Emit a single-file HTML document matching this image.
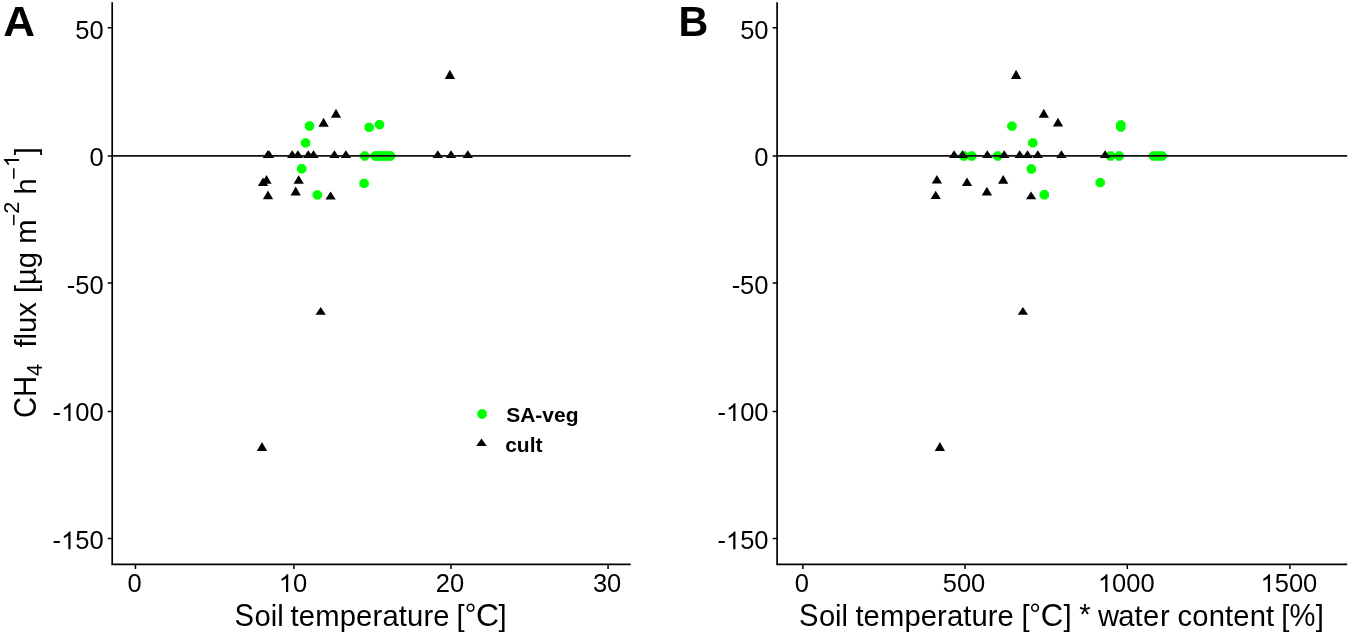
<!DOCTYPE html>
<html><head><meta charset="utf-8"><title>CH4 flux vs soil temperature</title><style>
html,body{margin:0;padding:0;background:#fff;overflow:hidden}
svg{display:block;will-change:transform}
text{font-family:"Liberation Sans",sans-serif;fill:#000}
.tk{font-size:25.5px}
.ti{font-size:29.2px}
.tag{font-size:43px;font-weight:bold}
.lg{font-size:21px;font-weight:bold}
</style></head><body>
<svg width="1350" height="635" viewBox="0 0 1350 635">
<rect width="1350" height="635" fill="#fff"/>
<g fill="#00ff00"><polygon points="314.20,127.95 311.45,130.70 307.55,130.70 304.80,127.95 304.80,124.05 307.55,121.30 311.45,121.30 314.20,124.05"/><polygon points="310.30,144.85 307.55,147.60 303.65,147.60 300.90,144.85 300.90,140.95 303.65,138.20 307.55,138.20 310.30,140.95"/><polygon points="373.90,129.35 371.15,132.10 367.25,132.10 364.50,129.35 364.50,125.45 367.25,122.70 371.15,122.70 373.90,125.45"/><polygon points="384.20,126.55 381.45,129.30 377.55,129.30 374.80,126.55 374.80,122.65 377.55,119.90 381.45,119.90 384.20,122.65"/><polygon points="306.40,170.75 303.65,173.50 299.75,173.50 297.00,170.75 297.00,166.85 299.75,164.10 303.65,164.10 306.40,166.85"/><polygon points="368.80,185.35 366.05,188.10 362.15,188.10 359.40,185.35 359.40,181.45 362.15,178.70 366.05,178.70 368.80,181.45"/><polygon points="322.00,196.85 319.25,199.60 315.35,199.60 312.60,196.85 312.60,192.95 315.35,190.20 319.25,190.20 322.00,192.95"/><polygon points="369.50,157.95 366.75,160.70 362.85,160.70 360.10,157.95 360.10,154.05 362.85,151.30 366.75,151.30 369.50,154.05"/><polygon points="380.00,157.95 377.25,160.70 373.35,160.70 370.60,157.95 370.60,154.05 373.35,151.30 377.25,151.30 380.00,154.05"/><polygon points="382.50,157.95 379.75,160.70 375.85,160.70 373.10,157.95 373.10,154.05 375.85,151.30 379.75,151.30 382.50,154.05"/><polygon points="385.00,157.95 382.25,160.70 378.35,160.70 375.60,157.95 375.60,154.05 378.35,151.30 382.25,151.30 385.00,154.05"/><polygon points="387.50,157.95 384.75,160.70 380.85,160.70 378.10,157.95 378.10,154.05 380.85,151.30 384.75,151.30 387.50,154.05"/><polygon points="390.00,157.95 387.25,160.70 383.35,160.70 380.60,157.95 380.60,154.05 383.35,151.30 387.25,151.30 390.00,154.05"/><polygon points="392.50,157.95 389.75,160.70 385.85,160.70 383.10,157.95 383.10,154.05 385.85,151.30 389.75,151.30 392.50,154.05"/><polygon points="395.00,157.95 392.25,160.70 388.35,160.70 385.60,157.95 385.60,154.05 388.35,151.30 392.25,151.30 395.00,154.05"/></g>
<g fill="#000"><polygon points="444.75,78.90 455.05,78.90 449.90,69.80"/><polygon points="330.85,117.70 341.15,117.70 336.00,108.70"/><polygon points="318.45,126.80 328.75,126.80 323.60,117.70"/><polygon points="261.35,183.80 271.65,183.80 266.50,175.10"/><polygon points="257.85,186.10 268.15,186.10 263.00,177.60"/><polygon points="293.55,183.80 303.85,183.80 298.70,175.20"/><polygon points="262.85,199.30 273.15,199.30 268.00,190.60"/><polygon points="290.55,195.60 300.85,195.60 295.70,186.50"/><polygon points="325.45,199.60 335.75,199.60 330.60,191.50"/><polygon points="315.55,314.80 325.85,314.80 320.70,307.10"/><polygon points="256.85,450.90 267.15,450.90 262.00,441.90"/><polygon points="262.65,157.90 272.95,157.90 267.80,150.20"/><polygon points="263.85,157.90 274.15,157.90 269.00,150.20"/><polygon points="287.05,157.90 297.35,157.90 292.20,150.20"/><polygon points="292.75,157.90 303.05,157.90 297.90,150.20"/><polygon points="303.15,157.90 313.45,157.90 308.30,150.20"/><polygon points="308.35,157.90 318.65,157.90 313.50,150.20"/><polygon points="329.25,157.90 339.55,157.90 334.40,150.20"/><polygon points="340.75,157.90 351.05,157.90 345.90,150.20"/><polygon points="432.65,157.90 442.95,157.90 437.80,150.20"/><polygon points="445.85,157.90 456.15,157.90 451.00,150.20"/><polygon points="462.65,157.90 472.95,157.90 467.80,150.20"/></g>
<g fill="#00ff00"><polygon points="1016.60,128.05 1013.85,130.80 1009.95,130.80 1007.20,128.05 1007.20,124.15 1009.95,121.40 1013.85,121.40 1016.60,124.15"/><polygon points="1037.50,144.85 1034.75,147.60 1030.85,147.60 1028.10,144.85 1028.10,140.95 1030.85,138.20 1034.75,138.20 1037.50,140.95"/><polygon points="1125.50,126.95 1122.75,129.70 1118.85,129.70 1116.10,126.95 1116.10,123.05 1118.85,120.30 1122.75,120.30 1125.50,123.05"/><polygon points="1125.50,128.95 1122.75,131.70 1118.85,131.70 1116.10,128.95 1116.10,125.05 1118.85,122.30 1122.75,122.30 1125.50,125.05"/><polygon points="1036.00,170.95 1033.25,173.70 1029.35,173.70 1026.60,170.95 1026.60,167.05 1029.35,164.30 1033.25,164.30 1036.00,167.05"/><polygon points="1104.90,184.55 1102.15,187.30 1098.25,187.30 1095.50,184.55 1095.50,180.65 1098.25,177.90 1102.15,177.90 1104.90,180.65"/><polygon points="1049.00,196.65 1046.25,199.40 1042.35,199.40 1039.60,196.65 1039.60,192.75 1042.35,190.00 1046.25,190.00 1049.00,192.75"/><polygon points="968.50,157.95 965.75,160.70 961.85,160.70 959.10,157.95 959.10,154.05 961.85,151.30 965.75,151.30 968.50,154.05"/><polygon points="976.40,157.95 973.65,160.70 969.75,160.70 967.00,157.95 967.00,154.05 969.75,151.30 973.65,151.30 976.40,154.05"/><polygon points="1002.40,157.95 999.65,160.70 995.75,160.70 993.00,157.95 993.00,154.05 995.75,151.30 999.65,151.30 1002.40,154.05"/><polygon points="1115.30,157.95 1112.55,160.70 1108.65,160.70 1105.90,157.95 1105.90,154.05 1108.65,151.30 1112.55,151.30 1115.30,154.05"/><polygon points="1123.90,157.95 1121.15,160.70 1117.25,160.70 1114.50,157.95 1114.50,154.05 1117.25,151.30 1121.15,151.30 1123.90,154.05"/><polygon points="1158.30,157.95 1155.55,160.70 1151.65,160.70 1148.90,157.95 1148.90,154.05 1151.65,151.30 1155.55,151.30 1158.30,154.05"/><polygon points="1162.50,157.95 1159.75,160.70 1155.85,160.70 1153.10,157.95 1153.10,154.05 1155.85,151.30 1159.75,151.30 1162.50,154.05"/><polygon points="1166.80,157.95 1164.05,160.70 1160.15,160.70 1157.40,157.95 1157.40,154.05 1160.15,151.30 1164.05,151.30 1166.80,154.05"/></g>
<g fill="#000"><polygon points="1010.95,78.90 1021.25,78.90 1016.10,69.80"/><polygon points="1038.65,117.70 1048.95,117.70 1043.80,108.70"/><polygon points="1052.85,126.60 1063.15,126.60 1058.00,117.70"/><polygon points="931.75,183.40 942.05,183.40 936.90,174.90"/><polygon points="961.85,186.10 972.15,186.10 967.00,177.50"/><polygon points="998.05,183.70 1008.35,183.70 1003.20,175.10"/><polygon points="930.55,199.10 940.85,199.10 935.70,190.80"/><polygon points="981.75,195.50 992.05,195.50 986.90,186.70"/><polygon points="1025.95,199.30 1036.25,199.30 1031.10,191.60"/><polygon points="1017.75,314.80 1028.05,314.80 1022.90,307.10"/><polygon points="934.75,450.90 945.05,450.90 939.90,441.90"/><polygon points="948.95,157.90 959.25,157.90 954.10,150.20"/><polygon points="957.45,157.90 967.75,157.90 962.60,150.20"/><polygon points="982.15,157.90 992.45,157.90 987.30,150.20"/><polygon points="999.05,157.90 1009.35,157.90 1004.20,150.20"/><polygon points="1014.55,157.90 1024.85,157.90 1019.70,150.20"/><polygon points="1022.35,157.90 1032.65,157.90 1027.50,150.20"/><polygon points="1032.65,157.90 1042.95,157.90 1037.80,150.20"/><polygon points="1056.25,157.90 1066.55,157.90 1061.40,150.20"/><polygon points="1099.95,157.90 1110.25,157.90 1105.10,150.20"/></g>
<path d="M112.20 2.3 V564.40 H630.70" fill="none" stroke="#000" stroke-width="1.7"/>
<path d="M107.70 27.70 H112.20M107.70 155.90 H112.20M107.70 283.10 H112.20M107.70 411.50 H112.20M107.70 538.50 H112.20M135.47 564.40 V568.90M293.90 564.40 V568.90M450.97 564.40 V568.90M608.07 564.40 V568.90" fill="none" stroke="#000" stroke-width="1.5"/>
<path d="M112.20 155.9 H630.70" stroke="#111" stroke-width="1.8"/>
<g class="tkg">
<text x="75.24" y="38.60" class="tk">50</text>
<text x="89.42" y="165.60" class="tk">0</text>
<text x="66.74" y="293.90" class="tk">-50</text>
<text x="52.56" y="421.00" class="tk">- 00</text><path d="M763 0L583 0L583 1147Q518 1085 412.5 1023Q307 961 223 930L223 1104Q374 1175 487 1276Q600 1377 647 1472L763 1472Z" transform="translate(61.05,421.00) scale(0.01245,-0.01209)"/>
<text x="52.56" y="549.30" class="tk">- 50</text><path d="M763 0L583 0L583 1147Q518 1085 412.5 1023Q307 961 223 930L223 1104Q374 1175 487 1276Q600 1377 647 1472L763 1472Z" transform="translate(61.05,549.30) scale(0.01245,-0.01209)"/>
<text x="127.38" y="592.00" class="tk">0</text>
<text x="278.72" y="592.00" class="tk"> 0</text><path d="M763 0L583 0L583 1147Q518 1085 412.5 1023Q307 961 223 930L223 1104Q374 1175 487 1276Q600 1377 647 1472L763 1472Z" transform="translate(278.72,592.00) scale(0.01245,-0.01209)"/>
<text x="435.79" y="592.00" class="tk">20</text>
<text x="592.89" y="592.00" class="tk">30</text>
</g>
<path d="M777.10 2.3 V564.40 H1347.20" fill="none" stroke="#000" stroke-width="1.7"/>
<path d="M772.60 27.70 H777.10M772.60 155.90 H777.10M772.60 283.10 H777.10M772.60 411.50 H777.10M772.60 538.50 H777.10M802.90 564.40 V568.90M965.00 564.40 V568.90M1127.30 564.40 V568.90M1289.90 564.40 V568.90" fill="none" stroke="#000" stroke-width="1.5"/>
<path d="M777.10 155.9 H1347.20" stroke="#111" stroke-width="1.8"/>
<g class="tkg">
<text x="740.14" y="38.60" class="tk">50</text>
<text x="754.32" y="165.60" class="tk">0</text>
<text x="731.64" y="293.90" class="tk">-50</text>
<text x="717.46" y="421.00" class="tk">- 00</text><path d="M763 0L583 0L583 1147Q518 1085 412.5 1023Q307 961 223 930L223 1104Q374 1175 487 1276Q600 1377 647 1472L763 1472Z" transform="translate(725.95,421.00) scale(0.01245,-0.01209)"/>
<text x="717.46" y="549.30" class="tk">- 50</text><path d="M763 0L583 0L583 1147Q518 1085 412.5 1023Q307 961 223 930L223 1104Q374 1175 487 1276Q600 1377 647 1472L763 1472Z" transform="translate(725.95,549.30) scale(0.01245,-0.01209)"/>
<text x="794.81" y="592.00" class="tk">0</text>
<text x="942.73" y="592.00" class="tk">500</text>
<text x="1097.94" y="592.00" class="tk"> 000</text><path d="M763 0L583 0L583 1147Q518 1085 412.5 1023Q307 961 223 930L223 1104Q374 1175 487 1276Q600 1377 647 1472L763 1472Z" transform="translate(1097.94,592.00) scale(0.01245,-0.01209)"/>
<text x="1260.54" y="592.00" class="tk"> 500</text><path d="M763 0L583 0L583 1147Q518 1085 412.5 1023Q307 961 223 930L223 1104Q374 1175 487 1276Q600 1377 647 1472L763 1472Z" transform="translate(1260.54,592.00) scale(0.01245,-0.01209)"/>
</g>
<text x="254.48 270.72 277.20 290.60 298.87 315.26 339.73 356.12 372.51 382.38 398.77 407.03 423.42 433.30 456.45 464.86 498.53" y="626.00 626.00 626.00 626.00 626.00 626.00 626.00 626.00 626.00 626.00 626.00 626.00 626.00 626.00 626.00 624.10 626.00" class="ti">oiltemperature[°]</text><text transform="translate(234.50,626.00) scale(1,1.09)" class="ti">S</text><text transform="translate(476.00,626.00) scale(1.0919,1.1)" class="ti">C</text>
<text x="818.88 835.12 841.60 855.40 863.62 879.96 904.38 920.72 937.06 946.88 963.22 971.43 987.77 997.60 1021.45 1029.36 1063.53 1079.35 1098.03 1118.32 1134.56 1143.07 1160.11 1177.55 1192.28 1208.65 1225.02 1233.27 1249.64 1266.02 1281.14 1315.72" y="626.00 626.00 626.00 626.00 626.00 626.00 626.00 626.00 626.00 626.00 626.00 626.00 626.00 626.00 626.00 624.10 626.00 624.40 626.00 626.00 626.00 626.00 626.00 626.00 626.00 626.00 626.00 626.00 626.00 626.00 626.00 626.00" class="ti">oiltemperature[°]*watercontent[]</text><text transform="translate(799.10,626.00) scale(1,1.09)" class="ti">S</text><text transform="translate(1040.74,626.00) scale(1.0649,1.1)" class="ti">C</text><text transform="translate(1289.55,626.00) scale(1,1.08)" class="ti">%</text>
<text transform="translate(3.3,35.8) scale(1.024,1.0)" class="tag">A</text>
<text transform="translate(678.6,35.8) scale(0.96,1.0)" class="tag">B</text>
<g fill="#00ff00"><polygon points="486.80,415.95 484.05,418.70 480.15,418.70 477.40,415.95 477.40,412.05 480.15,409.30 484.05,409.30 486.80,412.05"/></g>
<g fill="#000"><polygon points="476.20,445.90 486.80,445.90 481.50,438.50"/></g>
<text x="506.2" y="422.3" class="lg">SA-veg</text>
<text x="505.2" y="452.3" class="lg">cult</text>
<text transform="translate(36.10,397.00) rotate(-90) scale(1,1.08)" text-anchor="middle" font-size="29.2">CH</text>
<text transform="translate(42.40,369.90) rotate(-90)" text-anchor="middle" font-size="21.7">4</text>
<text transform="translate(36.10,324.80) rotate(-90)" text-anchor="middle" font-size="29.2">flux</text>
<text transform="translate(36.10,256.30) rotate(-90)" text-anchor="middle" font-size="29.2">[µg m</text>
<text transform="translate(19.00,214.00) rotate(-90)" text-anchor="middle" font-size="21.7"><tspan dy="1.6">−</tspan><tspan dy="-1.6">2</tspan></text>
<text transform="translate(36.10,186.50) rotate(-90)" text-anchor="middle" font-size="29.2">h</text>
<g transform="translate(19.00,167.40) rotate(-90)"><text x="-12.37" y="0" font-size="21.7"><tspan dy="1.6">−</tspan><tspan dy="-1.6"> </tspan></text><path d="M763 0L583 0L583 1147Q518 1085 412.5 1023Q307 961 223 930L223 1104Q374 1175 487 1276Q600 1377 647 1472L763 1472Z" transform="translate(0.30,0.00) scale(0.01060,-0.01029)"/></g>
<text transform="translate(36.10,151.20) rotate(-90)" text-anchor="middle" font-size="29.2">]</text>
</svg>
</body></html>
